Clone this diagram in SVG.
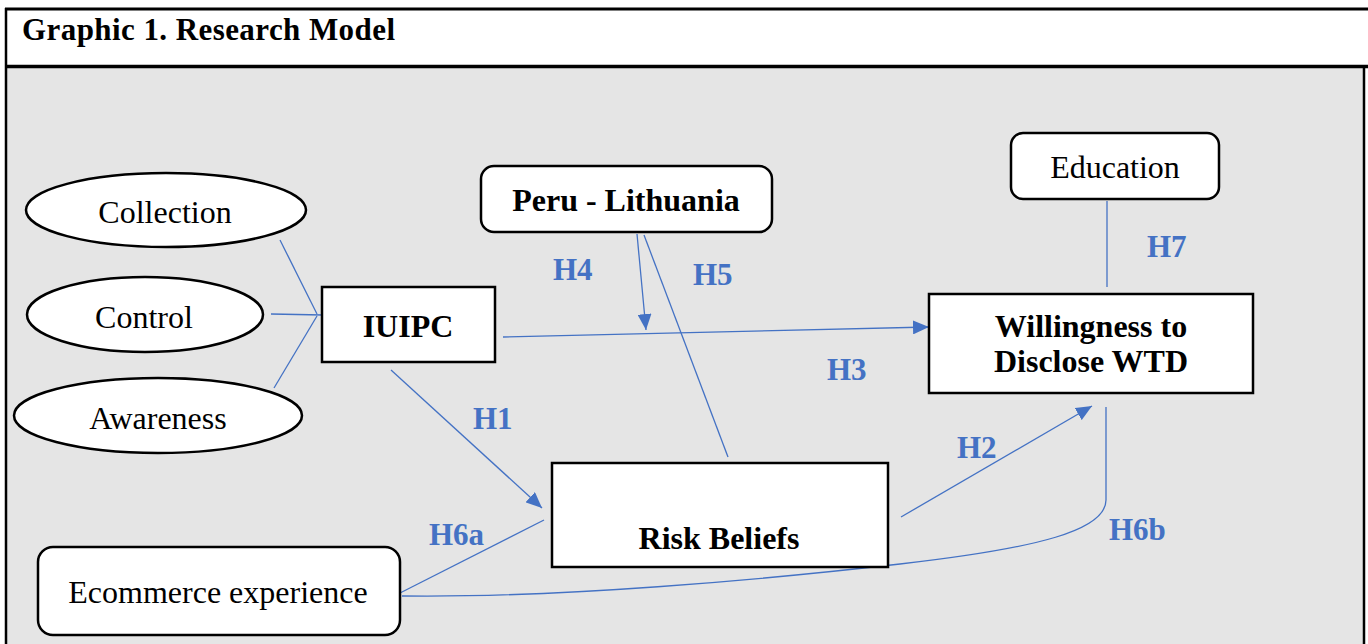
<svg xmlns="http://www.w3.org/2000/svg" width="1368" height="644" viewBox="0 0 1368 644">
<style>
.t{font-family:"Liberation Serif","Times New Roman",serif;font-size:32px;fill:#000;text-anchor:middle}
.b{font-weight:bold}
.h{font-family:"Liberation Serif","Times New Roman",serif;font-size:31px;font-weight:bold;fill:#4472c4}
.n{fill:#fff;stroke:#000;stroke-width:2.5}
.c{fill:none;stroke:#4472c4;stroke-width:1.3}
</style>
<defs>
<marker id="ah" viewBox="0 0 16 14" refX="16" refY="7" markerWidth="16" markerHeight="14" markerUnits="userSpaceOnUse" orient="auto">
<path d="M0,0 L16,7 L0,14 Z" fill="#4472c4"/>
</marker>
</defs>
<rect x="0" y="0" width="1368" height="644" fill="#fff"/>
<rect x="6" y="67" width="1358" height="577" fill="#e5e5e5"/>
<g id="frame" stroke="#000">
<line x1="5" y1="9" x2="1368" y2="9" stroke-width="3"/>
<line x1="5" y1="66.5" x2="1368" y2="66.5" stroke-width="3.5"/>
<line x1="6" y1="8" x2="6" y2="644" stroke-width="2.5"/>
<line x1="1364" y1="66" x2="1364" y2="644" stroke-width="2.5"/>
</g>
<text x="22" y="40" font-family="Liberation Serif,Times New Roman,serif" font-size="31" font-weight="bold" textLength="373">Graphic 1. Research Model</text>
<g id="connectors">
<line class="c" x1="280" y1="240" x2="317" y2="314"/>
<line class="c" x1="271" y1="314" x2="323" y2="315"/>
<line class="c" x1="274" y1="388" x2="317" y2="316"/>
<line class="c" x1="637" y1="234" x2="646" y2="330" marker-end="url(#ah)"/>
<line class="c" x1="644" y1="235" x2="728" y2="457"/>
<line class="c" x1="503" y1="337" x2="929" y2="327" marker-end="url(#ah)"/>
<line class="c" x1="391" y1="370" x2="542" y2="508" marker-end="url(#ah)"/>
<line class="c" x1="901" y1="517" x2="1092" y2="406" marker-end="url(#ah)"/>
<line class="c" x1="1107" y1="201" x2="1107" y2="287"/>
<line class="c" x1="400" y1="593" x2="544" y2="520"/>
<path class="c" d="M1106,407 L1106,500 C1106,530 1040,548 900,564 C760,580 560,598 402,596"/>
</g>
<g id="labels">
<text class="h" x="553" y="280">H4</text>
<text class="h" x="693" y="285">H5</text>
<text class="h" x="827" y="380">H3</text>
<text class="h" x="473" y="429">H1</text>
<text class="h" x="1147" y="257">H7</text>
<text class="h" x="957" y="458">H2</text>
<text class="h" x="1109" y="540">H6b</text>
<text class="h" x="429" y="545">H6a</text>
</g>
<g id="collection">
<ellipse class="n" cx="166" cy="210" rx="140" ry="37"/>
<text class="t" x="165" y="223">Collection</text>
</g>
<g id="control">
<ellipse class="n" cx="145" cy="314.5" rx="118" ry="37.5"/>
<text class="t" x="144" y="328">Control</text>
</g>
<g id="awareness">
<ellipse class="n" cx="158" cy="415.5" rx="144" ry="37.5"/>
<text class="t" x="158" y="429">Awareness</text>
</g>
<g id="iuipc">
<rect class="n" x="322" y="287" width="173" height="75"/>
<text class="t b" x="408" y="337">IUIPC</text>
</g>
<g id="peru">
<rect class="n" x="481" y="166" width="291" height="66" rx="13"/>
<text class="t b" x="626" y="211">Peru - Lithuania</text>
</g>
<g id="education">
<rect class="n" x="1011" y="133" width="208" height="66" rx="12"/>
<text class="t" x="1115" y="178">Education</text>
</g>
<g id="wtd">
<rect class="n" x="929" y="294" width="324" height="99"/>
<text class="t b" x="1091" y="337">Willingness to</text>
<text class="t b" x="1091" y="372">Disclose WTD</text>
</g>
<g id="risk">
<rect class="n" x="552" y="463" width="336" height="104"/>
<text class="t b" x="719" y="549">Risk Beliefs</text>
</g>
<g id="ecommerce">
<rect class="n" x="38" y="547" width="362" height="88" rx="15"/>
<text class="t" x="218" y="603">Ecommerce experience</text>
</g>
</svg>
